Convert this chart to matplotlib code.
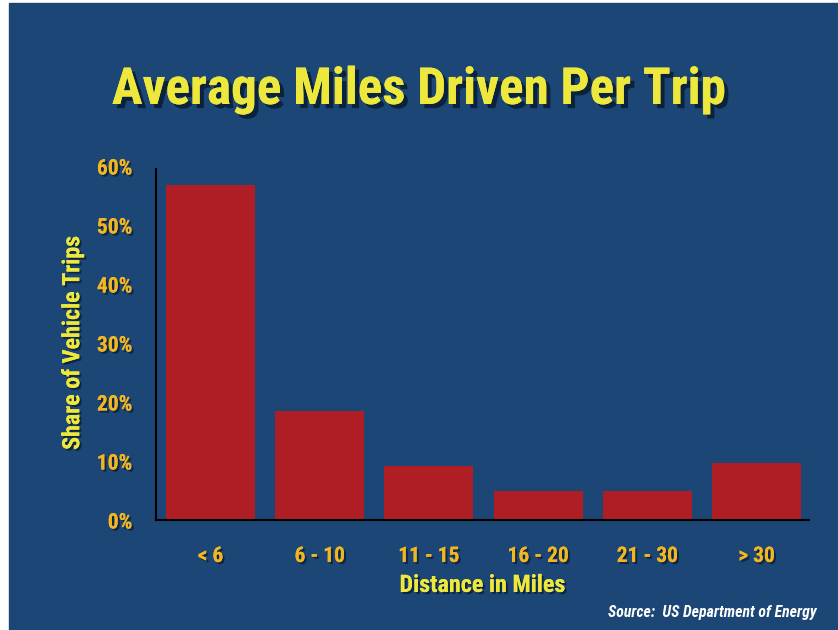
import matplotlib
matplotlib.use('Agg')
import matplotlib.pyplot as plt
import matplotlib.patheffects as pe
from matplotlib.patches import Rectangle
from matplotlib import font_manager as fm

categories = ['< 6', '6 - 10', '11 - 15', '16 - 20', '21 - 30', '> 30']
shares = [56.8, 18.5, 9.2, 4.9, 4.9, 9.7]  # % of vehicle trips
yticks = [0, 10, 20, 30, 40, 50, 60]

bg = '#1b4675'
bar_color = '#b01e25'
yellow = '#eee83c'
orange = '#f2b623'

# pick the narrowest bold face that is installed (the original looks like Impact)
names = {f.name for f in fm.fontManager.ttflist}
cands = ['Liberation Sans Narrow', 'DejaVu Sans Condensed', 'Roboto Condensed',
         'Open Sans Condensed', 'Noto Sans Condensed', 'Roboto', 'DejaVu Sans']
font = next(c for c in cands if c in names)
fam = [font, 'DejaVu Sans']

fig = plt.figure(figsize=(8.38, 6.30), dpi=100, facecolor='white')
fig.patches.append(Rectangle((9 / 838, 0), 1, 627 / 630, transform=fig.transFigure,
                             color=bg, zorder=-1))

ax = fig.add_axes([156 / 838, 1 - 520 / 630, (809 - 156) / 838, (520 - 166) / 630])
ax.set_zorder(2)
ax.set_facecolor('none')

x = range(len(categories))
ax.bar(x, shares, width=0.815, color=bar_color, zorder=2)
ax.set_xlim(-0.5, 5.48)
ax.set_ylim(0, 60)

shadow = [pe.withSimplePatchShadow(offset=(1.5, -1.5), shadow_rgbFace='#0a1e38', alpha=0.8), pe.Normal()]

ax.set_yticks(yticks)
ax.set_yticklabels([f'{v}%' for v in yticks], family=fam, fontsize=15.5, fontweight='bold',
                   color=orange, path_effects=shadow)
ax.set_xticks(list(x))
ax.set_xticklabels(categories, family=fam, fontsize=15.5, fontweight='bold', color=orange,
                   path_effects=shadow)
ax.tick_params(axis='both', length=0)
ax.tick_params(axis='y', pad=17)
ax.tick_params(axis='x', pad=18)

for s in ['top', 'right']:
    ax.spines[s].set_visible(False)
for s in ['left', 'bottom']:
    ax.spines[s].set_color('black')
    ax.spines[s].set_linewidth(1.5)
ax.spines['left'].set_bounds(0, 59.5)

xl = ax.set_xlabel('Distance in Miles', family=fam, fontsize=17, fontweight='bold', color=yellow,
                   labelpad=5, path_effects=shadow)
yl = ax.set_ylabel('Share of Vehicle Trips', family=fam, fontsize=16, fontweight='bold', color=yellow,
                   labelpad=9, path_effects=shadow)

title = fig.text(0.5, 1 - 90 / 630, 'Average Miles Driven Per Trip', family=fam, fontsize=40,
                 fontweight='bold', color=yellow, ha='center', va='center',
                 path_effects=[pe.withSimplePatchShadow(offset=(3, -3), shadow_rgbFace='#081a30', alpha=0.8),
                               pe.Normal()])

src = fig.text(817 / 838, 1 - 612 / 630, 'Source:  US Department of Energy', family=fam, fontsize=12,
               fontweight='bold', style='italic', color='white', ha='right', va='center')

# fit text widths to the reference (pixels)
r = fig.canvas.get_renderer()
for t, w in [(title, 613), (xl, 166), (src, 208)]:
    cur = t.get_window_extent(r).width
    t.set_fontsize(t.get_fontsize() * w / cur)
cur = yl.get_window_extent(r).height
yl.set_fontsize(yl.get_fontsize() * 214 / cur)

fig.savefig('out.png', dpi=100, facecolor=fig.get_facecolor())
